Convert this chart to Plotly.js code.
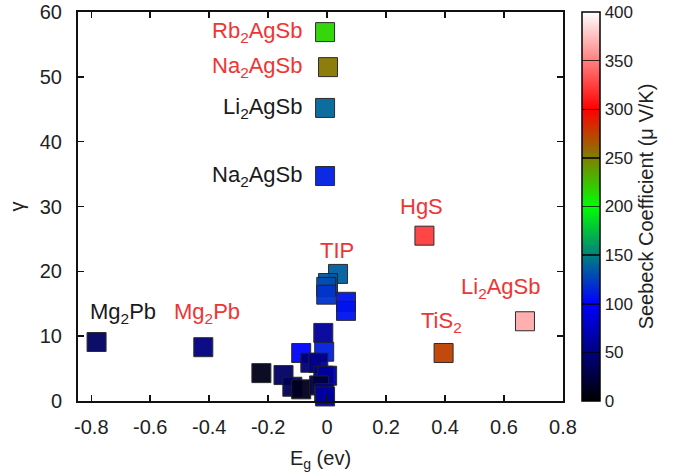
<!DOCTYPE html>
<html>
<head>
<meta charset="utf-8">
<script src="https://cdn.plot.ly/plotly-3.0.1.min.js"></script>
<style>html,body{margin:0;padding:0;background:#fff;}#chart{width:690px;height:476px;}</style>
</head>
<body>
<div id="chart"></div>
<script>
// Band gap (eV)
const eg = [-0.782, -0.42, -0.007, 0.003, -0.007, -0.007, 0.33, 0.671, 0.395,
  0.037, 0.003, -0.003, -0.003, 0.064, 0.064, -0.013, -0.01, -0.088, -0.057, -0.03,
  -0.223, -0.148, -0.118, -0.088, -0.013, 0.0, -0.027, -0.01, -0.007];
// gamma
const gamma = [9.1, 8.3, 56.9, 51.5, 45.2, 34.7, 25.5, 12.3, 7.4,
  19.6, 18.2, 17.6, 16.4, 15.3, 13.9, 10.5, 7.6, 7.4, 5.9, 5.9,
  4.3, 4.0, 2.2, 1.8, 3.9, 3.9, 2.4, 1.2, 0.7];
// Seebeck coefficient (uV/K)
const seebeck = [38, 50, 217, 253, 140, 112, 324, 367, 275,
  137, 135, 130, 120, 107, 107, 60, 112, 102, 47, 55,
  10, 40, 35, 12, 50, 62, 25, 55, 62];

// Labels: point index, text, colour
const labelIdx = [0, 1, 2, 3, 4, 5, 6, 7, 8, 9];
const labelText = ['Mg<sub>2</sub>Pb', 'Mg<sub>2</sub>Pb', 'Rb<sub>2</sub>AgSb', 'Na<sub>2</sub>AgSb',
  'Li<sub>2</sub>AgSb', 'Na<sub>2</sub>AgSb', 'HgS', 'Li<sub>2</sub>AgSb', 'TiS<sub>2</sub>', 'TIP'];
const labelRed = [false, true, true, true, false, false, true, true, true, true];

const cbTicks = [0, 50, 100, 150, 200, 250, 300, 350, 400];
const xTicks = [-0.8, -0.6, -0.4, -0.2, 0, 0.2, 0.4, 0.6, 0.8];
const yTicks = [0, 10, 20, 30, 40, 50, 60];

const FONT = 'Liberation Sans, Arial, Helvetica, sans-serif';
const RED = '#f03434';
const BLK = '#1a1a1a';

// label placement offsets (px) and anchors, keyed by label order
const place = [
  {xs: 26, ys: 29, xa: 'center'},
  {xs: 4, ys: 34, xa: 'center'},
  {xs: -20, ys: 0, xa: 'right'},
  {xs: -23, ys: 0, xa: 'right'},
  {xs: -20, ys: 0, xa: 'right'},
  {xs: -20, ys: 0, xa: 'right'},
  {xs: -3, ys: 29, xa: 'center'},
  {xs: -24, ys: 33, xa: 'center'},
  {xs: -2, ys: 31, xa: 'center'},
  {xs: -1, ys: 23, xa: 'center'}
];

const annotations = labelIdx.map((idx, k) => ({
  x: eg[idx], y: gamma[idx], xref: 'x', yref: 'y',
  text: labelText[k], showarrow: false,
  xanchor: place[k].xa, yanchor: 'middle',
  xshift: place[k].xs, yshift: place[k].ys,
  font: {family: FONT, size: 22, color: labelRed[k] ? RED : BLK}
}));

const trace = {
  type: 'scatter', mode: 'markers',
  x: eg, y: gamma,
  cliponaxis: false,
  marker: {
    symbol: 'square', size: 19, opacity: 0.95,
    color: seebeck, cmin: 0, cmax: 400,
    colorscale: [[0, '#000000'], [0.25, '#0000ff'], [0.5, '#00ff00'], [0.75, '#ff0000'], [1, '#ffffff']],
    line: {color: '#222', width: 1},
    showscale: true,
    colorbar: {
      x: 1.039, xanchor: 'left', xref: 'paper',
      y: 0.5, yanchor: 'middle', len: 1.0, lenmode: 'fraction',
      thickness: 18, xpad: 0, ypad: 0,
      outlinewidth: 1.5, outlinecolor: '#000',
      tickmode: 'array', tickvals: cbTicks, ticktext: cbTicks.map(String),
      ticks: 'inside', ticklen: 18, tickwidth: 1.5, tickcolor: 'rgba(0,0,0,0.75)',
      ticklabelstandoff: 11,
      tickfont: {family: FONT, size: 17, color: '#222'},
      title: {text: 'Seebeck Coefficient (μ V/K)', side: 'right', font: {family: FONT, size: 20, color: '#222'}}
    }
  },
  hoverinfo: 'none'
};

const axisCommon = {
  showgrid: false, zeroline: false, showline: true, linecolor: '#111', linewidth: 2,
  ticks: 'inside', ticklen: 6, tickwidth: 1.5, tickcolor: '#111', mirror: 'ticks',
  tickfont: {family: FONT, size: 20, color: '#222'}
};

const layout = {
  width: 690, height: 476,
  margin: {l: 78, r: 127, t: 12, b: 75},
  paper_bgcolor: '#fff', plot_bgcolor: '#fff',
  showlegend: false,
  xaxis: Object.assign({}, axisCommon, {
    range: [-0.845, 0.8], tickmode: 'array', tickvals: xTicks,
    ticktext: xTicks.map(v => String(v)), ticklabelstandoff: 7,
    title: {text: 'E<sub>g</sub> (ev)', standoff: 14, font: {family: FONT, size: 20, color: '#222'}}
  }),
  yaxis: Object.assign({}, axisCommon, {
    range: [0, 60], tickmode: 'array', tickvals: yTicks,
    ticktext: yTicks.map(String), ticklabelstandoff: 10,
    title: {text: 'γ', standoff: 10, font: {family: FONT, size: 20, color: '#222'}}
  }),
  annotations: annotations
};

Plotly.newPlot('chart', [trace], layout, {staticPlot: true, displayModeBar: false});
</script>
</body>
</html>
